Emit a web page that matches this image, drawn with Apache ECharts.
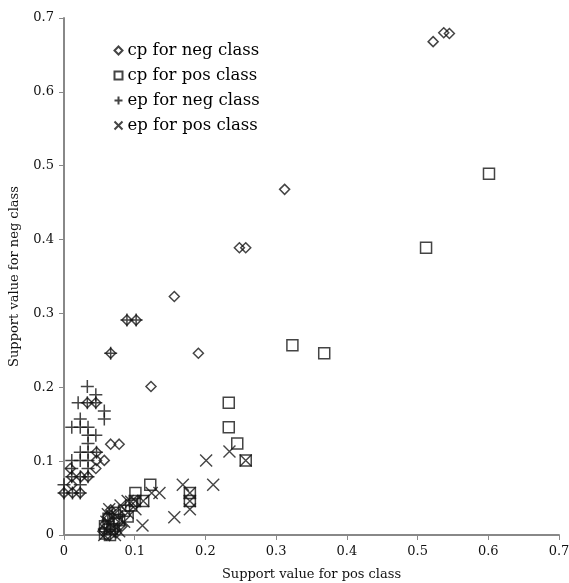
<!DOCTYPE html>
<html>
<head>
<meta charset="utf-8">
<script src="https://cdn.jsdelivr.net/npm/echarts@6/dist/echarts.min.js"></script>
<style>html,body{margin:0;padding:0;background:#fff}#c{width:569px;height:583px}</style>
</head>
<body>
<div id="c"></div>
<script>
var seriesNames = ['cp for neg class', 'cp for pos class', 'ep for neg class', 'ep for pos class'];
var xTicks = [0, 0.1, 0.2, 0.3, 0.4, 0.5, 0.6, 0.7];
var yTicks = [0, 0.1, 0.2, 0.3, 0.4, 0.5, 0.6, 0.7];
var xAxisName = 'Support value for pos class';
var yAxisName = 'Support value for neg class';

var cpNeg = [
  [0.522,0.668],[0.537,0.680],[0.545,0.679],
  [0.312,0.468],[0.248,0.389],[0.257,0.389],
  [0.156,0.323],[0.190,0.246],
  [0.089,0.291],[0.102,0.291],[0.066,0.246],[0.123,0.201],
  [0.033,0.179],[0.045,0.179],[0.066,0.123],[0.078,0.123],
  [0.046,0.112],[0.046,0.101],[0.057,0.101],[0.045,0.090],
  [0.034,0.079],[0.009,0.090],[0.011,0.079],[0.024,0.079],[0.011,0.068],
  [0.000,0.057],[0.012,0.057],[0.023,0.057],
  [0.055,0.005],[0.058,0.015],[0.062,0.025],[0.065,0.008],[0.070,0.018],
  [0.074,0.003],[0.078,0.028],[0.082,0.012],[0.060,0.000],[0.066,0.034]
];
var cpPos = [
  [0.601,0.489],[0.512,0.389],[0.323,0.257],[0.368,0.246],
  [0.233,0.179],[0.233,0.146],[0.245,0.124],[0.257,0.101],
  [0.178,0.057],[0.178,0.046],[0.122,0.068],[0.101,0.057],
  [0.112,0.046],[0.100,0.046],
  [0.058,0.002],[0.058,0.012],[0.063,0.022],[0.068,0.008],[0.072,0.030],
  [0.078,0.020],[0.085,0.033],[0.090,0.025],[0.095,0.040],[0.065,0.000]
];
var epNeg = [
  [0.033,0.201],[0.045,0.190],[0.020,0.179],[0.033,0.179],[0.045,0.179],
  [0.057,0.168],[0.057,0.157],[0.023,0.157],[0.011,0.146],[0.023,0.146],
  [0.034,0.146],[0.034,0.135],[0.045,0.135],[0.034,0.124],[0.023,0.112],
  [0.034,0.112],[0.046,0.112],[0.011,0.101],[0.023,0.101],[0.034,0.101],
  [0.011,0.090],[0.034,0.090],[0.023,0.079],[0.034,0.079],[0.011,0.079],
  [0.000,0.068],[0.023,0.068],[0.000,0.057],[0.012,0.057],[0.023,0.057],
  [0.089,0.291],[0.102,0.291],[0.066,0.246],
  [0.057,0.008],[0.062,0.018],[0.068,0.028],[0.072,0.005],[0.078,0.015]
];
var epPos = [
  [0.234,0.113],[0.201,0.101],[0.257,0.101],[0.211,0.068],[0.168,0.068],
  [0.178,0.057],[0.178,0.046],[0.178,0.035],[0.156,0.024],[0.135,0.057],
  [0.124,0.057],[0.111,0.013],[0.090,0.046],[0.101,0.046],[0.112,0.046],
  [0.101,0.035],
  [0.057,0.000],[0.060,0.018],[0.064,0.035],[0.068,0.008],[0.072,0.000],
  [0.075,0.025],[0.080,0.040],[0.085,0.018],[0.090,0.030],[0.095,0.045],
  [0.078,0.005],[0.062,0.028]
];

var FONT = 'DejaVu Serif';
var STROKE = '#151515';
var PLUS = 'path://M5,0L5,10M0,5L10,5';
var CROSS = 'path://M0,0L10,10M10,0L0,10';

function mkSeries(name, data, symbol, size, bw) {
  return {
    name: name, type: 'scatter', data: data, symbol: symbol, symbolSize: size,
    itemStyle: { color: 'none', borderColor: STROKE, borderWidth: bw },
    emphasis: { disabled: true }, animation: false
  };
}

var chart = echarts.init(document.getElementById('c'), null, { renderer: 'canvas' });
chart.setOption({
  backgroundColor: '#fff',
  grid: { left: 64, right: 10, top: 18, bottom: 48, containLabel: false, outerBoundsMode: 'none' },
  legend: {
    orient: 'vertical', left: 112, top: 42, padding: 0, itemWidth: 8, itemHeight: 8, itemGap: 8,
    textStyle: { fontFamily: FONT, fontSize: 16.5, color: '#000' },
    data: seriesNames
  },
  xAxis: {
    type: 'value', min: xTicks[0], max: xTicks[xTicks.length - 1], interval: 0.1,
    name: xAxisName, nameLocation: 'middle', nameGap: 33,
    nameTextStyle: { fontFamily: FONT, fontSize: 13, color: '#111' },
    axisLine: { lineStyle: { color: '#888', width: 2 } },
    axisTick: { show: true, length: 5, lineStyle: { color: '#888' } },
    splitLine: { show: false },
    axisLabel: { fontFamily: FONT, fontSize: 13, color: '#111', margin: 10,
      formatter: function (v) { return String(Math.round(v * 10) / 10); } }
  },
  yAxis: {
    type: 'value', min: yTicks[0], max: yTicks[yTicks.length - 1], interval: 0.1,
    name: yAxisName, nameLocation: 'middle', nameGap: 43, nameRotate: 90,
    nameTextStyle: { fontFamily: FONT, fontSize: 13, color: '#111' },
    axisLine: { show: true, lineStyle: { color: '#888', width: 2 } },
    axisTick: { show: true, length: 5, lineStyle: { color: '#888' } },
    splitLine: { show: false },
    axisLabel: { fontFamily: FONT, fontSize: 13, color: '#111', margin: 10,
      formatter: function (v) { return String(Math.round(v * 10) / 10); } }
  },
  series: [
    mkSeries(seriesNames[0], cpNeg, 'diamond', [10, 10], 1.5),
    mkSeries(seriesNames[1], cpPos, 'rect', [11, 11], 1.5),
    mkSeries(seriesNames[2], epNeg, PLUS, [13, 13], 1.5),
    mkSeries(seriesNames[3], epPos, CROSS, [12, 12], 1.4)
  ]
});
</script>
</body>
</html>
